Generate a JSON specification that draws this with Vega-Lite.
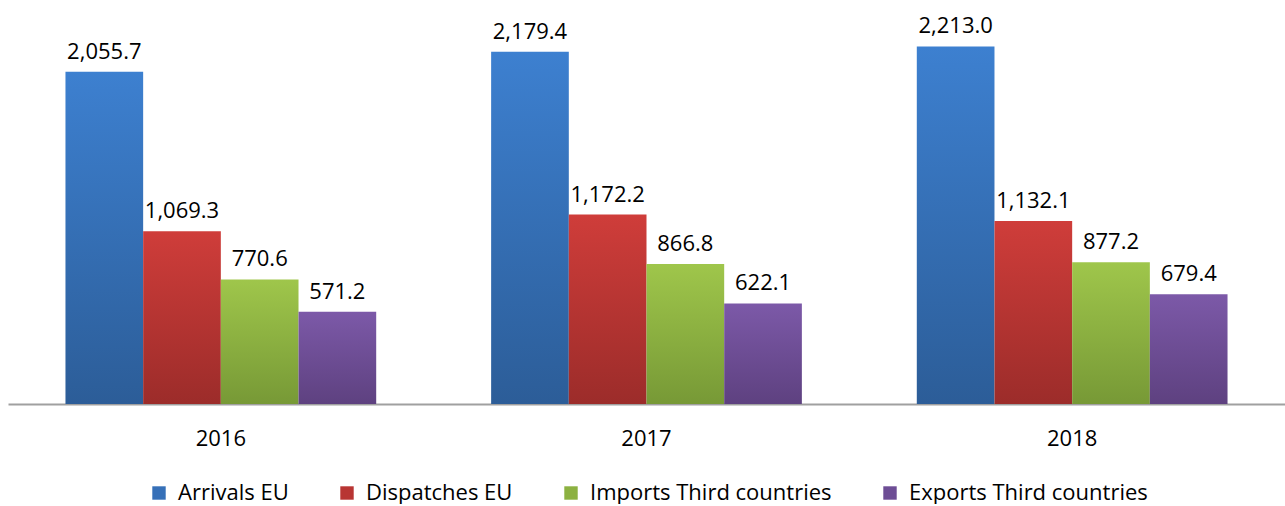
{
  "$schema": "https://vega.github.io/schema/vega-lite/v6.json",
  "width": 1277,
  "height": 404,
  "padding": {"left": 8, "right": 0, "top": 0, "bottom": 0},
  "background": "white",
  "config": {"view": {"stroke": null}, "font": "Open Sans"},
  "data": {"values": [
    {"year": "2016", "series": "Arrivals EU", "value": 2055.7},
    {"year": "2016", "series": "Dispatches EU", "value": 1069.3},
    {"year": "2016", "series": "Imports Third countries", "value": 770.6},
    {"year": "2016", "series": "Exports Third countries", "value": 571.2},
    {"year": "2017", "series": "Arrivals EU", "value": 2179.4},
    {"year": "2017", "series": "Dispatches EU", "value": 1172.2},
    {"year": "2017", "series": "Imports Third countries", "value": 866.8},
    {"year": "2017", "series": "Exports Third countries", "value": 622.1},
    {"year": "2018", "series": "Arrivals EU", "value": 2213.0},
    {"year": "2018", "series": "Dispatches EU", "value": 1132.1},
    {"year": "2018", "series": "Imports Third countries", "value": 877.2},
    {"year": "2018", "series": "Exports Third countries", "value": 679.4}
  ]},
  "encoding": {
    "x": {"field": "year", "type": "nominal", "title": null,
      "scale": {"paddingInner": 0.27, "paddingOuter": 0.135},
      "axis": {"labelAngle": 0, "ticks": false, "domainColor": "#a0a0a0", "domainWidth": 2, "labelFontSize": 22, "labelColor": "#000000", "labelPadding": 24, "labelFont": "Open Sans"}},
    "xOffset": {"field": "series", "type": "nominal",
      "sort": ["Arrivals EU", "Dispatches EU", "Imports Third countries", "Exports Third countries"],
      "scale": {"paddingInner": 0, "paddingOuter": 0}},
    "y": {"field": "value", "type": "quantitative", "title": null,
      "scale": {"domain": [0, 2500]}, "axis": null}
  },
  "layer": [
    {
      "mark": {"type": "bar"},
      "encoding": {
        "color": {"field": "series", "type": "nominal",
          "sort": ["Arrivals EU", "Dispatches EU", "Imports Third countries", "Exports Third countries"],
          "scale": {"domain": ["Arrivals EU", "Dispatches EU", "Imports Third countries", "Exports Third countries"],
            "range": ["#3670b8", "#b83533", "#8cb141", "#6d4d95"]},
          "legend": {"orient": "none", "legendX": 140, "legendY": 482, "title": null, "direction": "horizontal", "symbolType": "square", "symbolSize": 180, "symbolStrokeWidth": 0, "labelFontSize": 22, "labelColor": "#000000", "labelFont": "Open Sans", "labelOffset": 8, "columnPadding": 47, "labelLimit": 400},
          "condition": [
            {"test": "datum.series === 'Arrivals EU'", "value": {"gradient": "linear", "x1": 0, "y1": 0, "x2": 0, "y2": 1, "stops": [{"offset": 0, "color": "#3d80d0"}, {"offset": 1, "color": "#2c5d98"}]}},
            {"test": "datum.series === 'Dispatches EU'", "value": {"gradient": "linear", "x1": 0, "y1": 0, "x2": 0, "y2": 1, "stops": [{"offset": 0, "color": "#cf3d3a"}, {"offset": 1, "color": "#9c2c2a"}]}},
            {"test": "datum.series === 'Imports Third countries'", "value": {"gradient": "linear", "x1": 0, "y1": 0, "x2": 0, "y2": 1, "stops": [{"offset": 0, "color": "#9fc64b"}, {"offset": 1, "color": "#779936"}]}},
            {"test": "datum.series === 'Exports Third countries'", "value": {"gradient": "linear", "x1": 0, "y1": 0, "x2": 0, "y2": 1, "stops": [{"offset": 0, "color": "#7c59a8"}, {"offset": 1, "color": "#5e4180"}]}}
          ]}
      }
    },
    {
      "mark": {"type": "text", "baseline": "bottom", "dy": -8, "fontSize": 22, "color": "#000000", "font": "Open Sans"},
      "encoding": {
        "text": {"field": "value", "type": "quantitative", "format": ",.1f"}
      }
    }
  ]
}
